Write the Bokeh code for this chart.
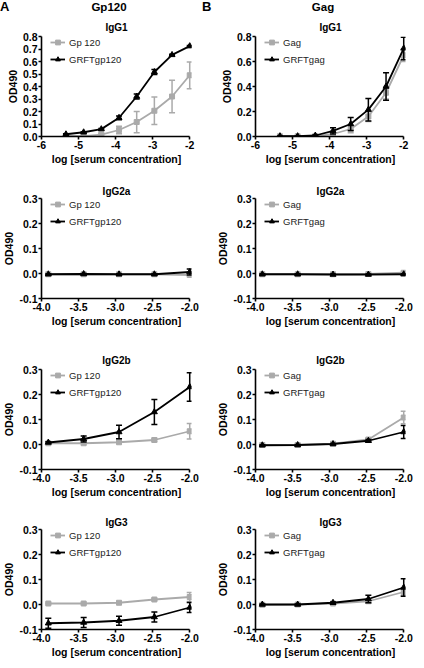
from bokeh.plotting import figure
from bokeh.layouts import gridplot, column, row
from bokeh.models import (Range1d, FixedTicker, PrintfTickFormatter, Legend, LegendItem, Title, Div)
from bokeh.embed import file_html
from bokeh.resources import INLINE

# ---------------- data ----------------
x_igg1 = [-5.340, -4.863, -4.386, -3.908, -3.431, -2.954, -2.477, -2.000]
x_sub = [-3.908, -3.431, -2.954, -2.477, -2.000]

# Column A: Gp120
a_igg1_gp120 = [0.005, 0.003, 0.015, 0.052, 0.116, 0.206, 0.32, 0.49]
a_igg1_gp120_err = [0.002, 0.003, 0.01, 0.03, 0.085, 0.11, 0.13, 0.107]
a_igg1_grft = [0.018, 0.034, 0.059, 0.15, 0.32, 0.516, 0.653, 0.723]
a_igg1_grft_err = [0.004, 0.004, 0.005, 0.015, 0.02, 0.02, 0.006, 0.006]

a_igg2a_gp120 = [-0.003, -0.003, -0.003, -0.003, -0.006]
a_igg2a_gp120_err = [0.002, 0.002, 0.002, 0.002, 0.003]
a_igg2a_grft = [-0.003, -0.002, -0.003, -0.003, 0.006]
a_igg2a_grft_err = [0.002, 0.002, 0.002, 0.002, 0.012]

a_igg2b_gp120 = [0.005, 0.005, 0.009, 0.018, 0.053]
a_igg2b_gp120_err = [0.002, 0.002, 0.003, 0.006, 0.031]
a_igg2b_grft = [0.008, 0.022, 0.05, 0.13, 0.23]
a_igg2b_grft_err = [0.003, 0.012, 0.027, 0.05, 0.057]

a_igg3_gp120 = [0.004, 0.004, 0.007, 0.02, 0.03]
a_igg3_gp120_err = [0.002, 0.002, 0.003, 0.004, 0.018]
a_igg3_grft = [-0.075, -0.072, -0.065, -0.05, -0.012]
a_igg3_grft_err = [0.02, 0.02, 0.018, 0.02, 0.02]

# Column B: Gag
b_igg1_gag = [0.002, 0.002, 0.003, 0.02, 0.06, 0.16, 0.35, 0.65]
b_igg1_gag_err = [0.002, 0.002, 0.002, 0.02, 0.03, 0.04, 0.05, 0.05]
b_igg1_grft = [0.003, 0.003, 0.008, 0.045, 0.1, 0.215, 0.4, 0.705]
b_igg1_grft_err = [0.002, 0.002, 0.004, 0.025, 0.052, 0.09, 0.11, 0.09]

b_igg2a_gag = [-0.003, -0.003, -0.003, -0.002, 0.003]
b_igg2a_gag_err = [0.002, 0.002, 0.002, 0.002, 0.003]
b_igg2a_grft = [-0.003, -0.003, -0.004, -0.004, -0.003]
b_igg2a_grft_err = [0.002, 0.002, 0.002, 0.002, 0.002]

b_igg2b_gag = [-0.002, -0.002, 0.003, 0.02, 0.108]
b_igg2b_gag_err = [0.002, 0.002, 0.002, 0.005, 0.025]
b_igg2b_grft = [-0.003, -0.002, 0.002, 0.015, 0.05]
b_igg2b_grft_err = [0.002, 0.002, 0.002, 0.005, 0.026]

b_igg3_gag = [-0.001, 0.0, 0.004, 0.013, 0.05]
b_igg3_gag_err = [0.002, 0.002, 0.002, 0.008, 0.015]
b_igg3_grft = [0.0, 0.0, 0.007, 0.022, 0.068]
b_igg3_grft_err = [0.002, 0.002, 0.003, 0.015, 0.035]

ticks_x_igg1 = [-6, -5, -4, -3, -2]
ticks_x_sub = [-4.0, -3.5, -3.0, -2.5, -2.0]
ticks_y_a1 = [0.0, 0.1, 0.2, 0.3, 0.4, 0.5, 0.6, 0.7, 0.8]
ticks_y_b1 = [0.0, 0.2, 0.4, 0.6, 0.8]
ticks_y_sub = [-0.1, 0.0, 0.1, 0.2, 0.3]

GREY = "#aaaaaa"
BLACK = "#000000"
FONT = "Liberation Sans"

# layout numbers (pixels)
FRAME_W = 150
FRAME_H = 100
HEAD_H = 15
col_border = [(34, 16), (48, 10)]
row_border = [(21, 29), (31, 29), (40, 29), (29, 29)]
title_standoff = [7, 4, 8, 4]


def draw_series(p, xs, ys, errs, color, marker, msize):
    lo = [y - e for y, e in zip(ys, errs)]
    hi = [y + e for y, e in zip(ys, errs)]
    p.segment(xs, lo, xs, hi, line_color=color, line_width=1.5)
    p.scatter(xs, lo, marker="dash", size=6, line_color=color, line_width=1.5)
    p.scatter(xs, hi, marker="dash", size=6, line_color=color, line_width=1.5)
    ln = p.line(xs, ys, line_color=color, line_width=1.8)
    mk = p.scatter(xs, ys, marker=marker, size=msize, fill_color=color, line_color=color)
    return ln, mk


def make_panel(col, row_i, title, xs, g, ge, k, ke, glabel, klabel, xr, xticks, xfmt, yr, yticks):
    bl, br = col_border[col]
    bt, bb = row_border[row_i]
    span = xr[1] - xr[0]
    p = figure(frame_width=FRAME_W, frame_height=FRAME_H, output_backend="svg", toolbar_location=None,
               x_range=Range1d(xr[0], xr[1] + 0.012 * span),
               y_range=Range1d(*yr),
               min_border_left=bl, min_border_right=br, min_border_top=bt, min_border_bottom=bb)
    p.outline_line_color = None
    p.grid.visible = False
    p.background_fill_color = "white"

    gl, gm = draw_series(p, xs, g, ge, GREY, "square", 5)
    kl, km = draw_series(p, xs, k, ke, BLACK, "triangle", 6)

    for ax in (p.xaxis[0], p.yaxis[0]):
        ax.axis_line_width = 1.6
        ax.major_tick_line_width = 1.6
        ax.major_tick_out = 3
        ax.major_tick_in = 0
        ax.minor_tick_line_color = None
        ax.major_label_text_font = FONT
        ax.major_label_text_font_size = "10.5px"
        ax.major_label_text_font_style = "bold"
        ax.major_label_text_color = BLACK
        ax.major_label_standoff = 1
        ax.axis_label_text_font = FONT
        ax.axis_label_text_font_size = "10.5px"
        ax.axis_label_text_font_style = "bold"
        ax.axis_label_text_color = BLACK
        ax.axis_label_standoff = 1
    p.xaxis.bounds = xr
    p.xaxis.ticker = FixedTicker(ticks=xticks)
    p.xaxis.formatter = PrintfTickFormatter(format=xfmt)
    p.yaxis.ticker = FixedTicker(ticks=yticks)
    p.yaxis.formatter = PrintfTickFormatter(format="%.1f")
    p.xaxis.axis_label = "log [serum concentration]"
    p.yaxis.axis_label = "OD490"

    p.add_layout(Title(text=title, align="center", text_font=FONT, text_font_size="10px",
                       text_font_style="bold", text_color=BLACK,
                       standoff=title_standoff[row_i]), "above")

    leg = Legend(items=[LegendItem(label=glabel, renderers=[gl, gm]),
                        LegendItem(label=klabel, renderers=[kl, km])],
                 location=(9, FRAME_H - 29), orientation="vertical",
                 background_fill_alpha=0, border_line_color=None,
                 glyph_width=15, glyph_height=12, label_height=12, spacing=5,
                 padding=0, margin=0, label_standoff=4,
                 label_text_font=FONT, label_text_font_size="9.5px", label_text_color="#222222")
    p.add_layout(leg)
    return p


panels = [
    ("IgG1", x_igg1, a_igg1_gp120, a_igg1_gp120_err, a_igg1_grft, a_igg1_grft_err,
     b_igg1_gag, b_igg1_gag_err, b_igg1_grft, b_igg1_grft_err, (-6, -2), ticks_x_igg1, "%d", (0, 0.8)),
    ("IgG2a", x_sub, a_igg2a_gp120, a_igg2a_gp120_err, a_igg2a_grft, a_igg2a_grft_err,
     b_igg2a_gag, b_igg2a_gag_err, b_igg2a_grft, b_igg2a_grft_err, (-4, -2), ticks_x_sub, "%.1f", (-0.1, 0.3)),
    ("IgG2b", x_sub, a_igg2b_gp120, a_igg2b_gp120_err, a_igg2b_grft, a_igg2b_grft_err,
     b_igg2b_gag, b_igg2b_gag_err, b_igg2b_grft, b_igg2b_grft_err, (-4, -2), ticks_x_sub, "%.1f", (-0.1, 0.3)),
    ("IgG3", x_sub, a_igg3_gp120, a_igg3_gp120_err, a_igg3_grft, a_igg3_grft_err,
     b_igg3_gag, b_igg3_gag_err, b_igg3_grft, b_igg3_grft_err, (-4, -2), ticks_x_sub, "%.1f", (-0.1, 0.3)),
]

grid = []
for r, (t, xs, ag, age, ak, ake, bg, bge, bk, bke, xr, xt, xf, yr) in enumerate(panels):
    yt_a = ticks_y_a1 if r == 0 else ticks_y_sub
    yt_b = ticks_y_b1 if r == 0 else ticks_y_sub
    pa = make_panel(0, r, t, xs, ag, age, ak, ake, "Gp 120", "GRFTgp120", xr, xt, xf, yr, yt_a)
    pb = make_panel(1, r, t, xs, bg, bge, bk, bke, "Gag", "GRFTgag", xr, xt, xf, yr, yt_b)
    grid.append([pa, pb])


def header(letter, name, col, letter_left):
    bl, br = col_border[col]
    w = bl + FRAME_W + br
    html = (
        f'<div style="position:relative;width:{w}px;height:{HEAD_H}px;'
        f'font-family:\'Liberation Sans\',Arial,sans-serif;font-weight:bold;color:#000;">'
        f'<span style="position:absolute;left:{letter_left}px;top:0px;font-size:13px;line-height:14px;">{letter}</span>'
        f'<span style="position:absolute;left:{bl}px;width:{FRAME_W}px;text-align:center;top:1px;'
        f'font-size:11.5px;line-height:13px;">{name}</span></div>'
    )
    return Div(text=html, width=w, height=HEAD_H, margin=(0, 0, 0, 0))


heads = row(header("A", "Gp120", 0, 0), header("B", "Gag", 1, 2), spacing=0)
grid_plot = gridplot(grid, toolbar_location=None)
layout = column(heads, grid_plot, spacing=0)
open("out.html", "w").write(file_html(layout, INLINE))
